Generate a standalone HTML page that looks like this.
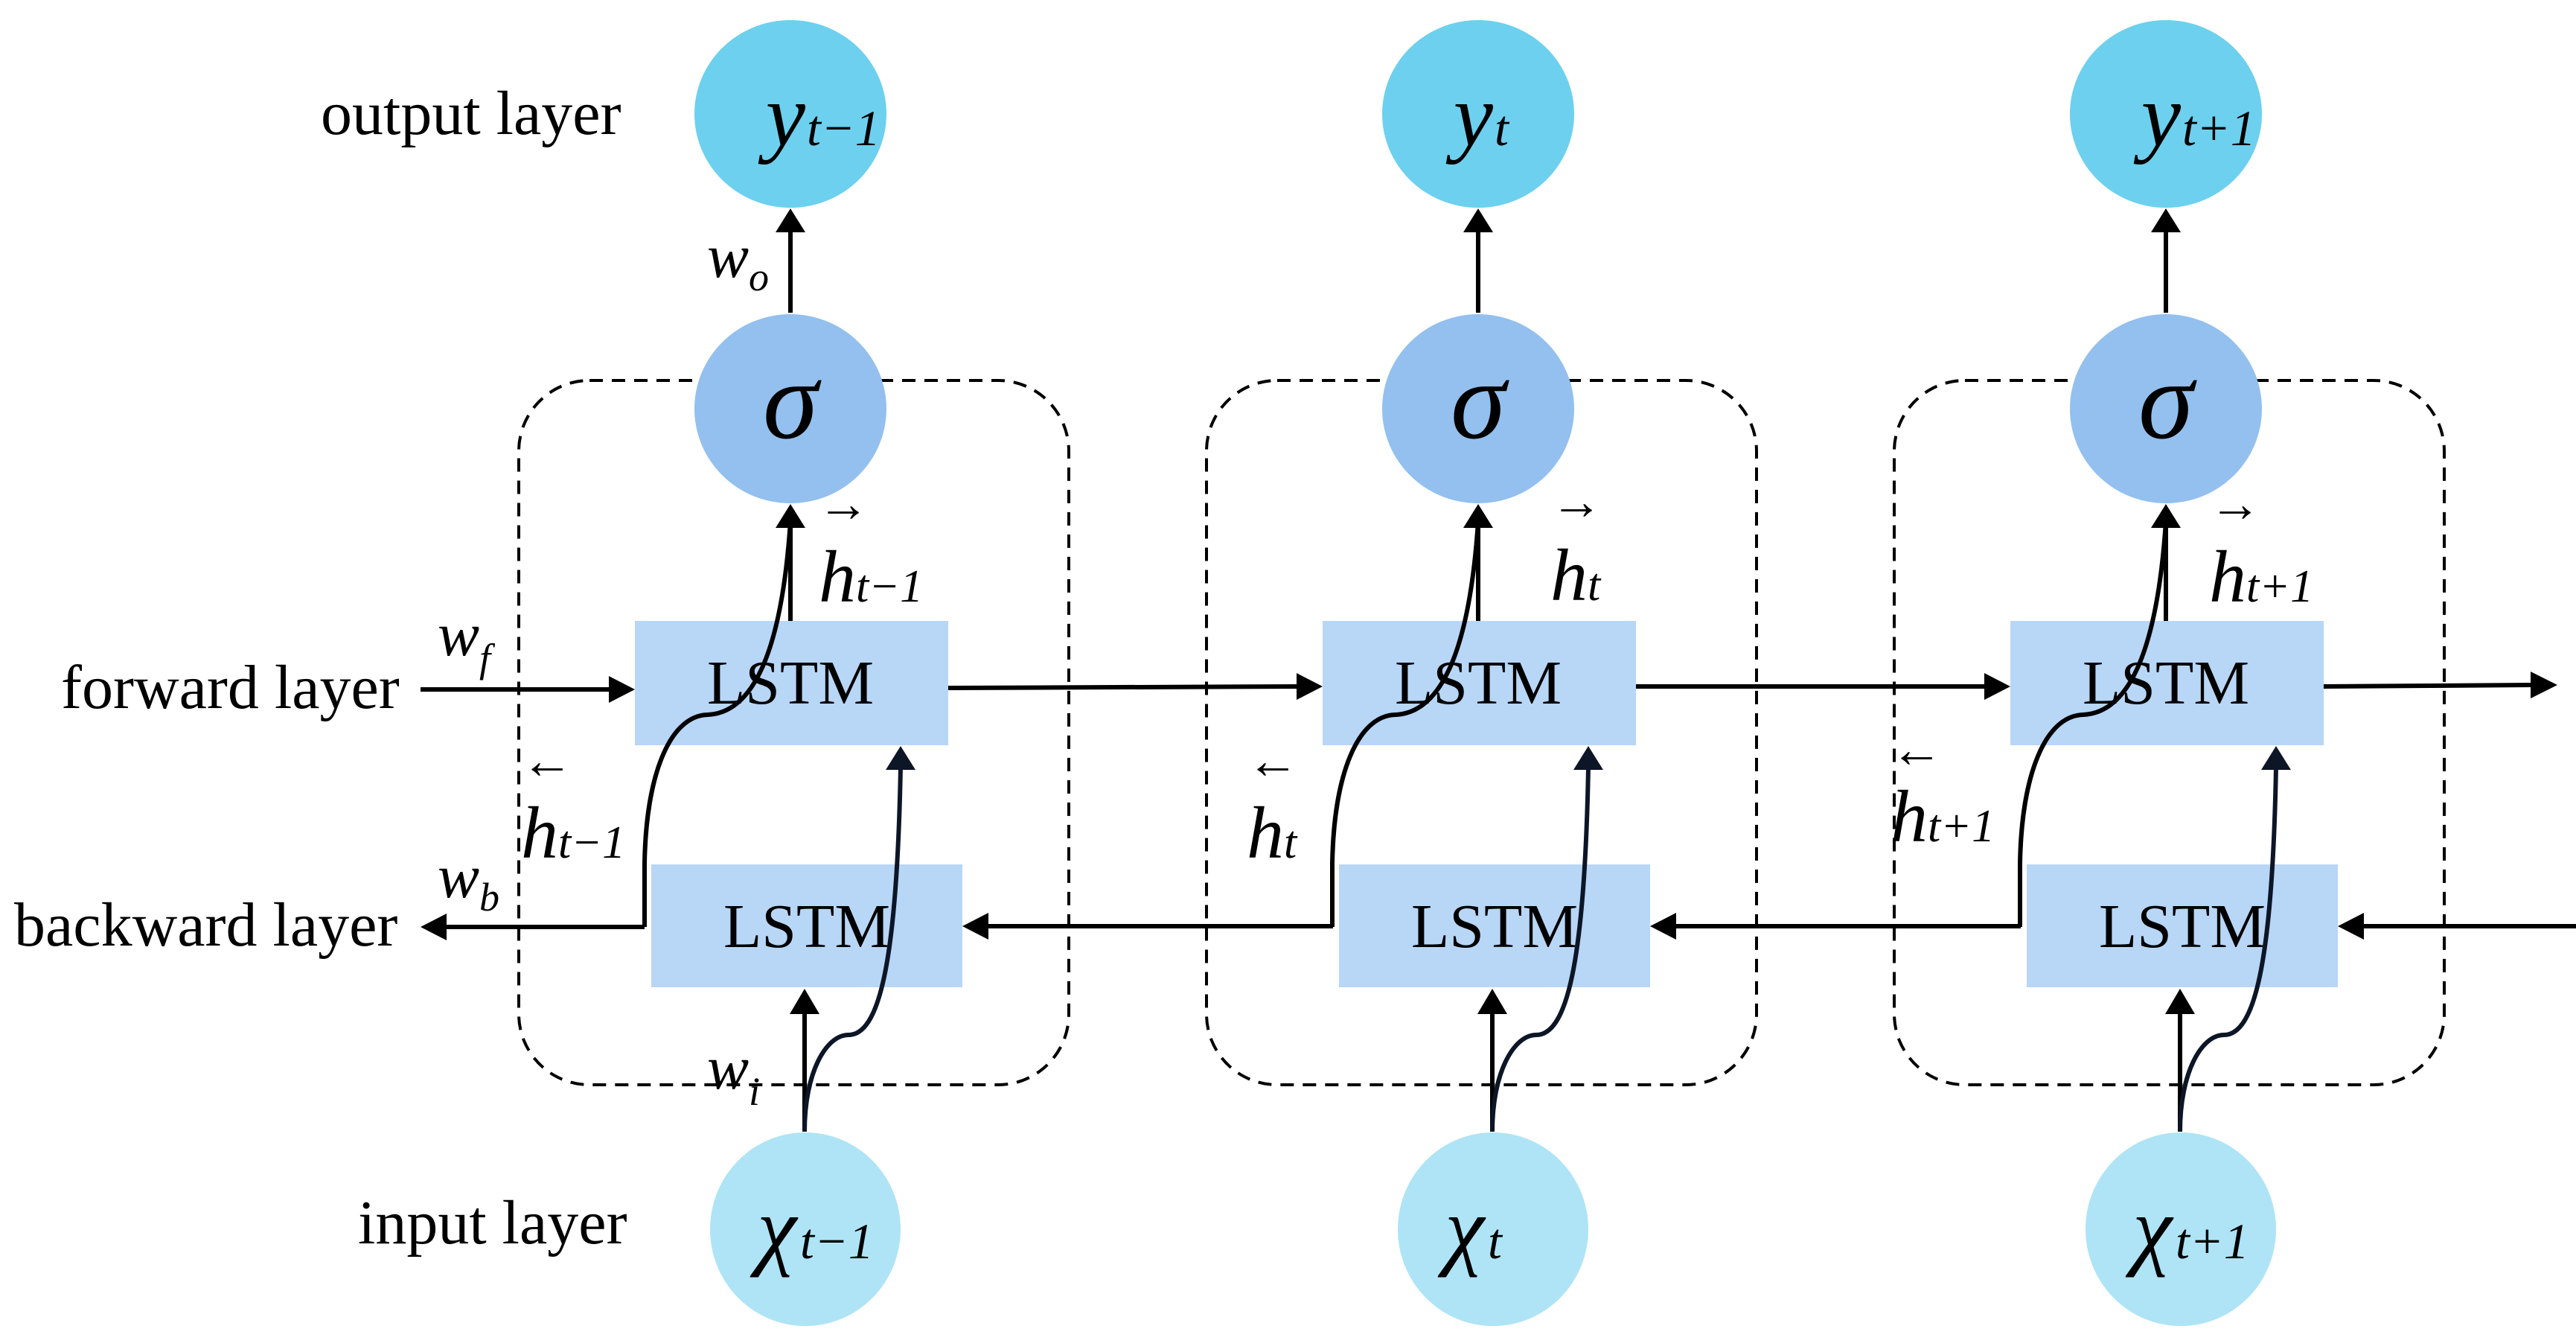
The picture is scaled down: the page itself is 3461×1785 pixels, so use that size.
<!DOCTYPE html>
<html><head><meta charset="utf-8"><style>
html,body{margin:0;padding:0;background:#fff;}
svg{display:block;}
text{font-family:"Liberation Serif",serif;fill:#000;}
.m{font-style:italic;}
</style></head><body>
<svg width="3461" height="1785" viewBox="0 0 3461 1785" xmlns="http://www.w3.org/2000/svg">
<!-- left labels -->
<text x="431" y="180" font-size="84">output layer</text>
<text x="82" y="951" font-size="84">forward layer</text>
<text x="19" y="1270" font-size="84">backward layer</text>
<text x="481" y="1670" font-size="84">input layer</text>

<!-- weight labels -->
<text class="m" x="588" y="880" font-size="84">w<tspan font-size="54" dy="22">f</tspan></text>
<text class="m" x="588" y="1205" font-size="84">w<tspan font-size="54" dy="18">b</tspan></text>
<text class="m" x="950" y="372" font-size="84">w<tspan font-size="54" dy="18">o</tspan></text>
<text class="m" x="950" y="1462" font-size="84">w<tspan font-size="54" dy="22">i</tspan></text>

<!-- global horizontal connectors -->
<g stroke="#000" stroke-width="6" fill="none">
<line x1="565" y1="926" x2="820" y2="926"/>
<line x1="1274" y1="924" x2="1745" y2="922"/>
<line x1="2198" y1="922" x2="2668" y2="922"/>
<line x1="3122" y1="922" x2="3400" y2="920"/>
<line x1="866" y1="1245" x2="600" y2="1245"/>
<line x1="1791" y1="1244" x2="1326" y2="1244"/>
<line x1="2715" y1="1244" x2="2250" y2="1244"/>
<line x1="3461" y1="1244" x2="3175" y2="1244"/>
</g>
<g fill="#000">
<polygon points="853,926 818,908 818,944"/>
<polygon points="1777,922 1742,904 1742,940"/>
<polygon points="2701,922 2666,904 2666,940"/>
<polygon points="3436,920 3400,902 3400,938"/>
<polygon points="565,1245 600,1227 600,1263"/>
<polygon points="1293,1244 1328,1226 1328,1262"/>
<polygon points="2217,1244 2252,1226 2252,1262"/>
<polygon points="3141,1244 3176,1226 3176,1262"/>
</g>

<!-- columns -->
<g id="c1">
<rect x="697" y="511" width="739" height="946" rx="95" ry="95" fill="none" stroke="#000" stroke-width="4" stroke-dasharray="18,12"/>
<rect x="853" y="834" width="421" height="167" fill="#b8d6f6"/>
<rect x="875" y="1161" width="418" height="165" fill="#b8d6f6"/>
<text x="1062" y="945" font-size="84" text-anchor="middle">LSTM</text>
<text x="1084" y="1272" font-size="84" text-anchor="middle">LSTM</text>
<ellipse cx="1062" cy="153" rx="129" ry="126" fill="#6dd0ee"/>
<ellipse cx="1062" cy="549" rx="129" ry="127" fill="#93c0ee"/>
<ellipse cx="1082" cy="1651" rx="128" ry="130" fill="#aee4f6"/>
<g stroke="#000" stroke-width="6" fill="none">
<line x1="1062" y1="420" x2="1062" y2="310"/>
<line x1="1062" y1="834" x2="1062" y2="700"/>
<path d="M866,1245 L866,1160 C868,1040 900,962 950,960 C1010,958 1050,880 1062,700"/>
<line x1="1081" y1="1520" x2="1081" y2="1360"/>
<path d="M1081,1520 C1081,1440 1110,1390 1140,1390 C1180,1390 1205,1300 1210,1030" stroke="#0d1626"/>
</g>
<g fill="#000">
<polygon points="1062,280 1042,312 1082,312"/>
<polygon points="1062,677 1042,709 1082,709"/>
<polygon points="1081,1328 1061,1362 1101,1362"/>
<polygon points="1210,1002 1190,1034 1230,1034" fill="#0d1626"/>
</g>
<text class="m" x="1062" y="588" font-size="150" text-anchor="middle">σ</text>
</g>
<use href="#c1" x="924"/>
<use href="#c1" x="1848"/>

<!-- node labels -->
<text class="m" x="1082" y="195" font-size="120" text-anchor="end">y</text>
<text class="m" x="1084" y="195" font-size="68">t−1</text>
<text class="m" x="2006" y="195" font-size="120" text-anchor="end">y</text>
<text class="m" x="2008" y="195" font-size="68">t</text>
<text class="m" x="2930" y="195" font-size="120" text-anchor="end">y</text>
<text class="m" x="2932" y="195" font-size="68">t+1</text>

<text class="m" x="1070" y="1690" font-size="120" text-anchor="end">χ</text>
<text class="m" x="1075" y="1690" font-size="68">t−1</text>
<text class="m" x="1994" y="1690" font-size="120" text-anchor="end">χ</text>
<text class="m" x="1999" y="1690" font-size="68">t</text>
<text class="m" x="2918" y="1690" font-size="120" text-anchor="end">χ</text>
<text class="m" x="2923" y="1690" font-size="68">t+1</text>

<!-- h labels -->
<text x="1098" y="700" font-size="70">→</text>
<text class="m" x="1100" y="808" font-size="100">h<tspan font-size="62">t−1</tspan></text>
<text x="700" y="1045" font-size="70">←</text>
<text class="m" x="700" y="1152" font-size="100">h<tspan font-size="62">t−1</tspan></text>

<text x="2083" y="697" font-size="70">→</text>
<text class="m" x="2083" y="806" font-size="100">h<tspan font-size="62">t</tspan></text>
<text x="1675" y="1045" font-size="70">←</text>
<text class="m" x="1675" y="1152" font-size="100">h<tspan font-size="62">t</tspan></text>

<text x="2968" y="700" font-size="70">→</text>
<text class="m" x="2968" y="808" font-size="100">h<tspan font-size="62">t+1</tspan></text>
<text x="2540" y="1030" font-size="70">←</text>
<text class="m" x="2540" y="1130" font-size="100">h<tspan font-size="62">t+1</tspan></text>
</svg>
</body></html>
